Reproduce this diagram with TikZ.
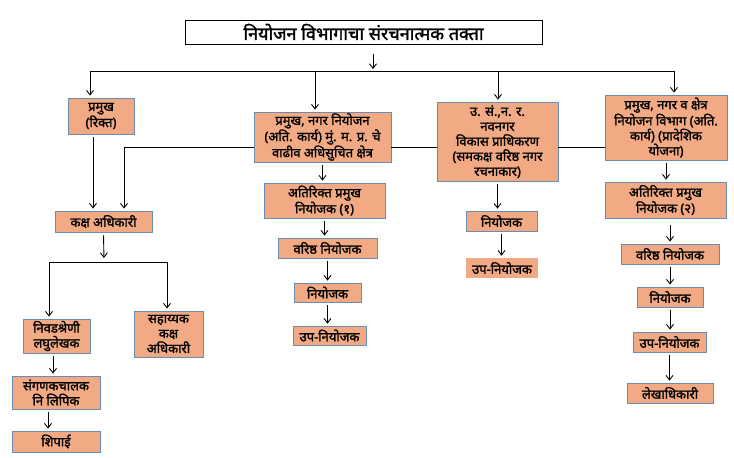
\documentclass[tikz,border=0pt]{standalone}
\usepackage{fontspec}
\newfontfamily\dev[Script=Devanagari,FakeBold=1.6]{Noto Sans}
\usetikzlibrary{arrows.meta}
\definecolor{boxfill}{HTML}{F2AA84}
\definecolor{boxline}{HTML}{6A8CAF}

\begin{document}
\begin{tikzpicture}[x=1pt,y=-1pt,
	box/.style={draw=boxline,line width=0.8pt,fill=boxfill,align=center,inner sep=1pt,
		font=\dev\fontsize{13}{15}\selectfont},
	bare/.style={box,draw=none},
	arr/.style={-{Straight Barb[length=4.5pt,width=7pt]},line width=0.9pt,shorten <=3pt,shorten >=2pt},
	feed/.style={-{Straight Barb[length=4.5pt,width=7pt]},line width=0.9pt,shorten >=2pt},
	ln/.style={line width=0.9pt}]
	\useasboundingbox (0,0) rectangle (734,458);
	% title
	\node[draw,line width=1pt,minimum width=357pt,minimum height=24pt,font=\dev\fontsize{18}{20}\selectfont] (title) at (363.5,32) {नियोजन विभागाचा संरचनात्मक तक्ता};
	% heads
	\node[box,minimum width=66pt,minimum height=36pt] (pramukh) at (101,116) {प्रमुख\\(रिक्त)};
	\node[box,minimum width=137pt,minimum height=50pt] (nagar) at (322.5,137) {प्रमुख, नगर नियोजन\\(अति. कार्य) मुं. म. प्र. चे\\वाढीव अधिसुचित क्षेत्र};
	\node[box,minimum width=121pt,minimum height=79pt] (navnagar) at (497.5,141.5) {उ. सं.,न. र.\\नवनगर\\विकास प्राधिकरण\\(समकक्ष वरिष्ठ नगर\\रचनाकार)};
	\node[box,minimum width=122pt,minimum height=65pt] (kshetra) at (666,127.5) {प्रमुख, नगर व क्षेत्र\\नियोजन विभाग (अति.\\कार्य) (प्रादेशिक\\योजना)};
	% left column
	\node[box,minimum width=97pt,minimum height=21pt] (kaksh) at (103.5,221.5) {कक्ष अधिकारी};
	\node[box,minimum width=67pt,minimum height=34pt] (laghu) at (56.5,336) {निवडश्रेणी\\लघुलेखक};
	\node[box,minimum width=69pt,minimum height=46pt] (sahayak) at (168.5,334) {सहाय्यक\\कक्ष\\अधिकारी};
	\node[box,minimum width=88pt,minimum height=33pt] (sangan) at (56,392.5) {संगणकचालक\\नि लिपिक};
	\node[box,minimum width=88pt,minimum height=21pt] (shipai) at (56,441.5) {शिपाई};
	% second column
	\node[box,minimum width=121pt,minimum height=35pt] (atiA) at (324.5,200.5) {अतिरिक्त प्रमुख\\नियोजक (१)};
	\node[box,minimum width=99pt,minimum height=20pt] (varA) at (327.5,248) {वरिष्ठ नियोजक};
	\node[box,minimum width=67pt,minimum height=19pt] (niyA) at (327.5,292.5) {नियोजक};
	\node[box,minimum width=73pt,minimum height=19pt] (upA) at (329.5,335.5) {उप-नियोजक};
	% third column
	\node[box,minimum width=71pt,minimum height=20pt] (niyB) at (501.5,221) {नियोजक};
	\node[bare,minimum width=72pt,minimum height=20pt] (upB) at (502,268) {उप-नियोजक};
	% fourth column
	\node[box,minimum width=121pt,minimum height=36pt] (atiC) at (665.5,200) {अतिरिक्त प्रमुख\\नियोजक (२)};
	\node[box,minimum width=98pt,minimum height=20pt] (varC) at (670,254) {वरिष्ठ नियोजक};
	\node[box,minimum width=66pt,minimum height=20pt] (niyC) at (670,297) {नियोजक};
	\node[box,minimum width=73pt,minimum height=20pt] (upC) at (669.5,342) {उप-नियोजक};
	\node[box,minimum width=86pt,minimum height=20pt] (lekha) at (670,393) {लेखाधिकारी};
	% top bus
	\coordinate (top) at (373,71);
	\coordinate (busL) at (90,71);
	\coordinate (busR) at (674,71);
	\coordinate (dropB) at (315,71);
	\coordinate (dropC) at (498,71);
	\draw[arr,shorten <=9pt] (title.south -| top) -- (top);
	\draw[ln] (busL) -- (busR);
	\draw[feed] (busL) -- (busL |- pramukh.north);
	\draw[feed] (dropB) -- (dropB |- nagar.north);
	\draw[feed] (dropC) -- (dropC |- navnagar.north);
	\draw[feed] (busR) -- (busR |- kshetra.north);
	% cross line to kaksh adhikari
	\coordinate (hl) at (124,147);
	\draw[ln] (kshetra.west |- hl) -- (navnagar.east |- hl);
	\draw[ln] (navnagar.west |- hl) -- (nagar.east |- hl);
	\draw[feed] (nagar.west |- hl) -- (hl) -- (hl |- kaksh.north);
	\draw[arr] ([xshift=-8pt]pramukh.south) -- ([xshift=-8pt]pramukh.south |- kaksh.north);
	% left branch
	\coordinate (split) at (104,262);
	\coordinate (splitL) at (49,262);
	\coordinate (splitR) at (167,262);
	\draw[arr,shorten >=4pt] (kaksh.south) -- (split);
	\draw[ln] (splitL) -- (splitR);
	\draw[feed] (splitL) -- (splitL |- laghu.north);
	\draw[feed] (splitR) -- (splitR |- sahayak.north);
	\draw[arr] (laghu.south -| 53,0) -- (53,0 |- sangan.north);
	\draw[arr] (sangan.south -| 48,0) -- (48,0 |- shipai.north);
	% second column arrows
	\draw[arr] (nagar.south) -- (nagar.south |- atiA.north);
	\draw[arr] (atiA.south) -- (atiA.south |- varA.north);
	\draw[arr] (varA.south -| niyA) -- (niyA.north);
	\draw[arr] (niyA.south) -- (niyA.south |- upA.north);
	% third column arrows
	\draw[arr] (navnagar.south) -- (navnagar.south |- niyB.north);
	\draw[arr] (niyB.south) -- (niyB.south |- upB.north);
	% fourth column arrows
	\draw[arr] (kshetra.south) -- (kshetra.south |- atiC.north);
	\draw[arr] ([yshift=-4pt]atiC.south -| varC) -- (varC.north);
	\draw[arr] (varC.south) -- (niyC.north);
	\draw[arr] (niyC.south) -- (niyC.south |- upC.north);
	\draw[arr] (upC.south) -- (upC.south |- lekha.north);
\end{tikzpicture}
\end{document}
